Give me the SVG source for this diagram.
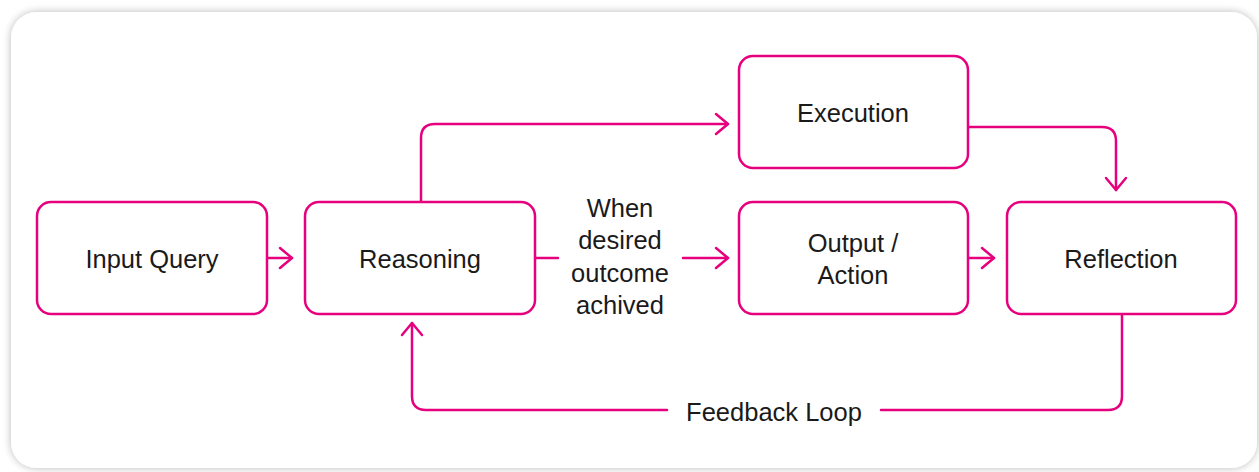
<svg xmlns="http://www.w3.org/2000/svg" width="1259" height="472" viewBox="0 0 1259 472">
<style>
.box{fill:#fff;stroke:#E6007E;stroke-width:2.5}
.ln{fill:none;stroke:#E6007E;stroke-width:2.5;stroke-linejoin:round;stroke-linecap:round}
.t{font-family:"Liberation Sans",Arial,sans-serif;font-size:25.5px;fill:#1a1a1a;text-anchor:middle}
</style>
<defs>
<filter id="sh" x="-5%" y="-10%" width="110%" height="120%">
<feGaussianBlur in="SourceAlpha" stdDeviation="4"/>
<feOffset dx="0" dy="0"/>
<feComponentTransfer><feFuncA type="linear" slope="0.28"/></feComponentTransfer>
<feMerge><feMergeNode/><feMergeNode in="SourceGraphic"/></feMerge>
</filter>
<marker id="ah" markerWidth="16" markerHeight="24" viewBox="-14 -12 16 24" refX="0" refY="0" orient="auto" markerUnits="userSpaceOnUse">
<path d="M-12,-10 L0,0 L-12,10" fill="none" stroke="#E6007E" stroke-width="2.5" stroke-linecap="round" stroke-linejoin="round"/>
</marker>
</defs>
<rect width="1259" height="472" fill="#fff"/>
<rect x="11" y="12" width="1246" height="456" rx="26" fill="#fff" filter="url(#sh)"/>
<g id="connectors">
<path class="ln" d="M267,258 H292" marker-end="url(#ah)"/>
<path class="ln" d="M421,202 V138 Q421,124 435,124 H728" marker-end="url(#ah)"/>
<path class="ln" d="M535,258 H558"/>
<path class="ln" d="M683,258 H728" marker-end="url(#ah)"/>
<path class="ln" d="M968,127 H1102 Q1116,127 1116,141 V190" marker-end="url(#ah)"/>
<path class="ln" d="M968,258 H994" marker-end="url(#ah)"/>
<path class="ln" d="M1122,314 V396 Q1122,410 1108,410 H881"/>
<path class="ln" d="M667,410 H426 Q412,410 412,396 V323" marker-end="url(#ah)"/>
</g>
<g id="n-input"><rect class="box" x="37" y="202" width="230" height="112" rx="14"/><text class="t" x="152" y="268">Input Query</text></g>
<g id="n-reasoning"><rect class="box" x="305" y="202" width="230" height="112" rx="14"/><text class="t" x="420" y="268">Reasoning</text></g>
<g id="n-execution"><rect class="box" x="739" y="56" width="229" height="112" rx="14"/><text class="t" x="853" y="122">Execution</text></g>
<g id="n-output"><rect class="box" x="739" y="202" width="229" height="112" rx="14"/><text class="t" x="853" y="252">Output /</text><text class="t" x="853" y="284">Action</text></g>
<g id="n-reflection"><rect class="box" x="1007" y="202" width="229" height="112" rx="14"/><text class="t" x="1121" y="268">Reflection</text></g>
<g id="labels">
<text class="t" x="620" y="217">When</text>
<text class="t" x="620" y="249">desired</text>
<text class="t" x="620" y="282">outcome</text>
<text class="t" x="620" y="314">achived</text>
<text class="t" x="774" y="421">Feedback Loop</text>
</g>
</svg>
